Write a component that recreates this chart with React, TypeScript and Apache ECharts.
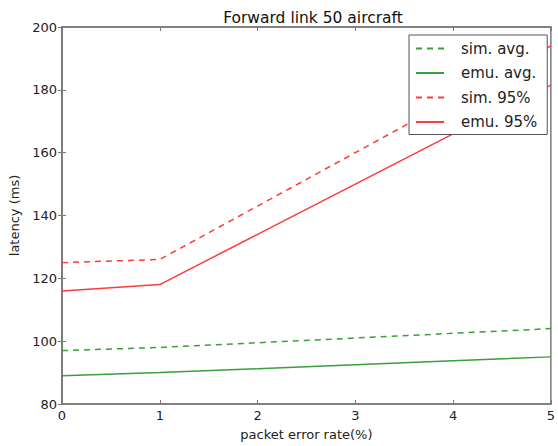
import React, { useEffect, useRef } from "react";
import * as echarts from "echarts";

const errorRates = [0, 1, 2, 3, 4, 5];
const simAvg = [97, 98, 99.5, 101, 102.5, 104];
const emuAvg = [89, 90, 91.2, 92.5, 93.8, 95];
const sim95 = [125, 126, 143, 160, 177, 194];
const emu95 = [116, 118, 134, 150, 166, 181.5];

const seriesNames = ["sim. avg.", "emu. avg.", "sim. 95%", "emu. 95%"];
const titleText = "Forward link 50 aircraft";
const xName = "packet error rate(%)";
const yName = "latency (ms)";

const GREEN = "#3a9e3a";
const RED = "#ff3a3a";
const AXIS = "#7a7a7a";
const FONT = "DejaVu Sans";

export default function App() {
  const ref = useRef<HTMLDivElement>(null);
  useEffect(() => {
    if (!ref.current) return;
    const chart = echarts.init(ref.current, undefined, { renderer: "svg" });
    const pair = (arr: number[]) => errorRates.map((x, i) => [x, arr[i]]);
    const mk = (name: string, data: number[], color: string, dashed: boolean) => ({
      name,
      type: "line",
      data: pair(data),
      symbol: "none",
      showSymbol: false,
      xAxisIndex: 0,
      yAxisIndex: 0,
      lineStyle: { color, width: 1.5, type: dashed ? [6, 5] : "solid" },
      itemStyle: { color },
      z: 3,
    });
    const tick = { show: true, inside: true, length: 4, lineStyle: { color: AXIS, width: 1 } };
    chart.setOption({
      animation: false,
      backgroundColor: "#ffffff",
      textStyle: { fontFamily: FONT },
      title: {
        text: titleText,
        left: 308,
        textAlign: "center",
        top: 5,
        textStyle: { fontFamily: FONT, fontSize: 15.5, fontWeight: "normal", color: "#111" },
      },
      grid: {
        left: 62,
        right: 3,
        top: 27,
        bottom: 39,
        show: true,
        borderColor: AXIS,
        borderWidth: 1.5,
        backgroundColor: "transparent",
      },
      legend: {
        orient: "vertical",
        left: 409,
        top: 35,
        padding: [6, 10, 5, 6],
        itemWidth: 28,
        itemHeight: 14,
        itemGap: 9.5,
        backgroundColor: "#ffffff",
        borderColor: "#555",
        borderWidth: 1,
        data: seriesNames,
        itemStyle: { opacity: 0 },
        textStyle: { fontFamily: FONT, fontSize: 15, color: "#222", padding: [0, 0, 0, 12] },
        z: 10,
      },
      xAxis: [
        {
          type: "value",
          min: 0,
          max: 5,
          interval: 1,
          position: "bottom",
          name: xName,
          nameLocation: "middle",
          nameGap: 24,
          nameTextStyle: { fontFamily: FONT, fontSize: 13, color: "#222" },
          axisLine: { show: true, lineStyle: { color: AXIS, width: 1.5 } },
          axisTick: tick,
          axisLabel: { fontFamily: FONT, fontSize: 13, color: "#222", margin: 5 },
          splitLine: { show: false },
        },
        {
          type: "value",
          min: 0,
          max: 5,
          interval: 1,
          position: "top",
          axisLine: { show: true, lineStyle: { color: AXIS, width: 1.5 } },
          axisTick: tick,
          axisLabel: { show: false },
          splitLine: { show: false },
        },
      ],
      yAxis: [
        {
          type: "value",
          min: 80,
          max: 200,
          interval: 20,
          position: "left",
          name: yName,
          nameLocation: "middle",
          nameGap: 28,
          nameRotate: 90,
          nameTextStyle: { fontFamily: FONT, fontSize: 13, color: "#222" },
          axisLine: { show: true, lineStyle: { color: AXIS, width: 1.5 } },
          axisTick: tick,
          axisLabel: { fontFamily: FONT, fontSize: 13, color: "#222", margin: 5 },
          splitLine: { show: false },
        },
        {
          type: "value",
          min: 80,
          max: 200,
          interval: 20,
          position: "right",
          axisLine: { show: true, lineStyle: { color: AXIS, width: 1.5 } },
          axisTick: tick,
          axisLabel: { show: false },
          splitLine: { show: false },
        },
      ],
      series: [
        mk(seriesNames[0], simAvg, GREEN, true),
        mk(seriesNames[1], emuAvg, GREEN, false),
        mk(seriesNames[2], sim95, RED, true),
        mk(seriesNames[3], emu95, RED, false),
      ],
    });
    return () => chart.dispose();
  }, []);
  return (
    <div
      ref={ref}
      style={{ position: "absolute", left: 0, top: 0, width: 558, height: 446 }}
    />
  );
}
